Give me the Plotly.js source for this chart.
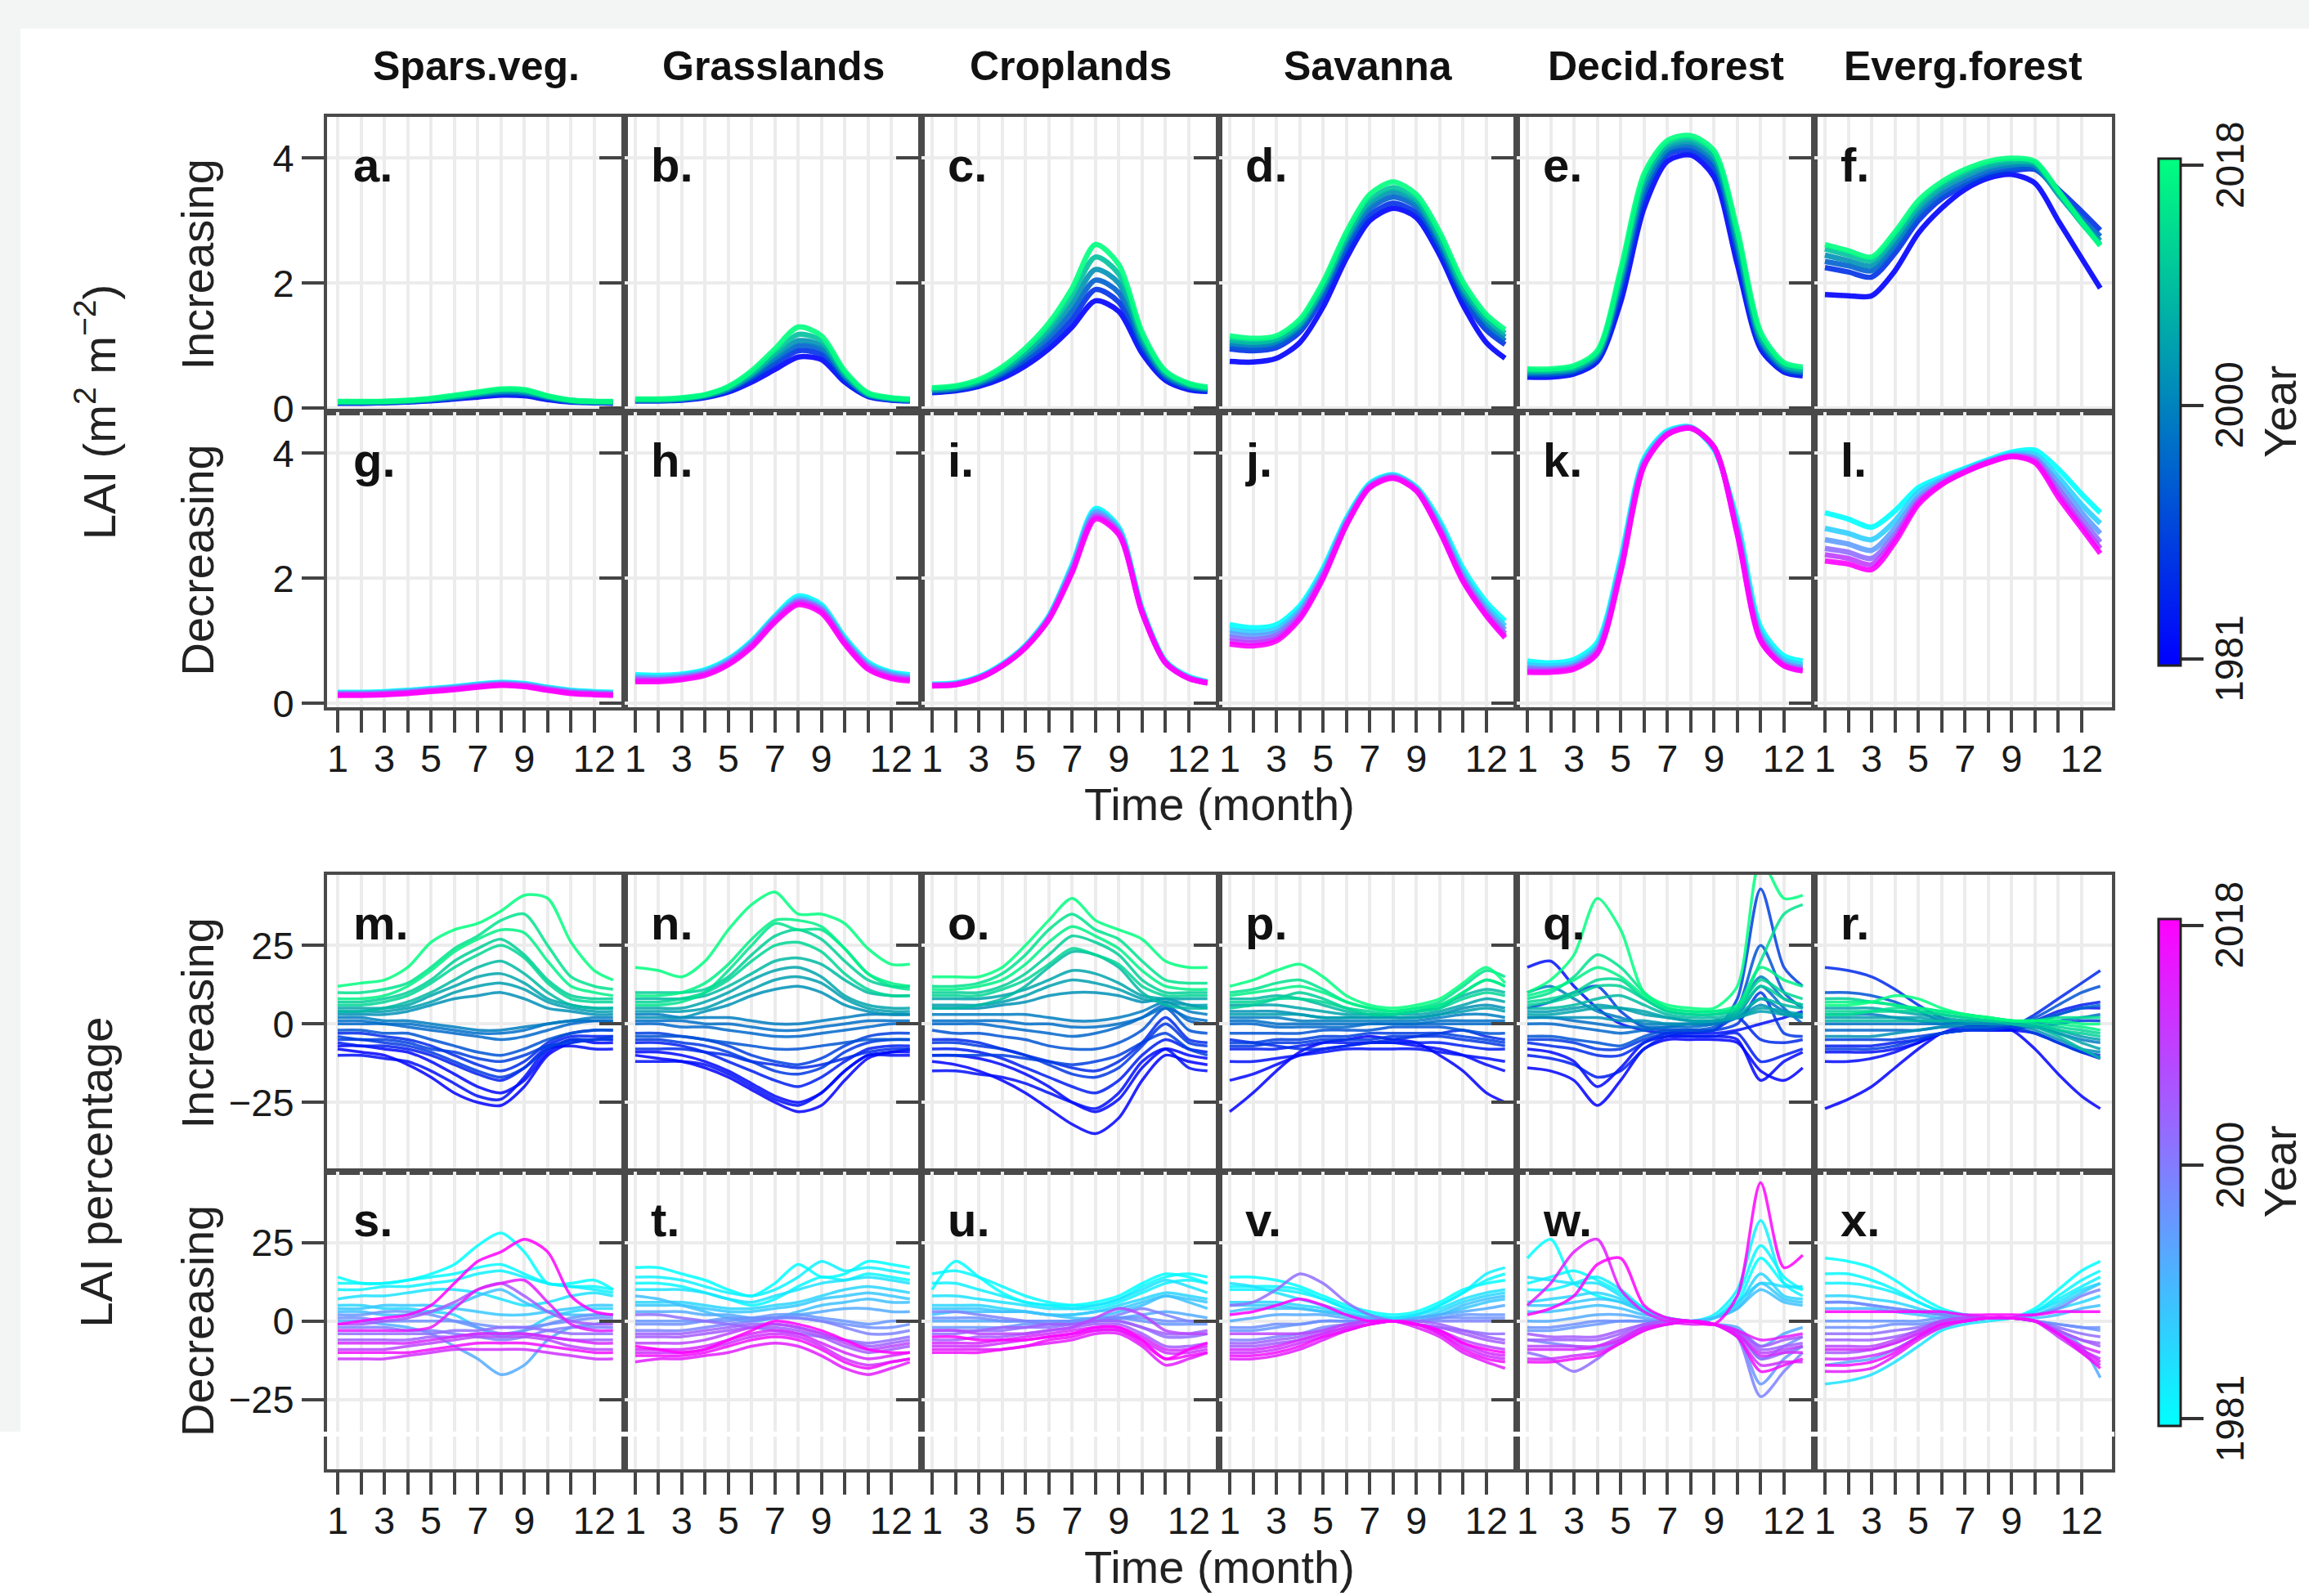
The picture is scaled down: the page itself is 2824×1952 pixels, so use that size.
<!DOCTYPE html>
<html><head><meta charset="utf-8">
<script src="https://cdn.plot.ly/plotly-3.0.1.min.js"></script>
<style>html,body{margin:0;padding:0;background:#fff}</style>
</head><body><div id="chart" style="width:2824px;height:1952px"></div>
<script>
// ---------------- data ----------------
const months = [1,2,3,4,5,6,7,8,9,10,11,12,12.8];
const xTickVals = [1,2,3,4,5,6,7,8,9,10,11,12];
const xTickText = ['1','','3','','5','','7','','9','','','12'];
const yTicksLAI = [0,2,4];
const yTicksPct = [-25,0,25];
const colTitles = ['Spars.veg.','Grasslands','Croplands','Savanna','Decid.forest','Everg.forest'];
const panelLetters = ['a','b','c','d','e','f','g','h','i','j','k','l','m','n','o','p','q','r','s','t','u','v','w','x'];
const rowLabels = ['Increasing','Decreasing'];
const blockLabels = ['LAI (m<sup>2</sup> m<sup>\u22122</sup>)','LAI percentage'];
const xTitle = 'Time (month)';
const cbTickYears = [1981, 2000, 2018];
const yearsLAI = [1981,1988,1995,2002,2009,2018];
const yearsPct = [1981,1982,1983,1985,1987,1989,1990,1993,1996,1997,1999,2002,2004,2005,2008,2011,2012,2014,2016,2018];

// LAI, increasing (a-f)
const lai_a = [
 [0.08,0.08,0.09,0.10,0.12,0.15,0.18,0.21,0.20,0.14,0.10,0.09,0.08],
 [0.09,0.09,0.09,0.11,0.13,0.16,0.20,0.23,0.22,0.15,0.11,0.09,0.09],
 [0.09,0.09,0.10,0.11,0.14,0.17,0.21,0.25,0.24,0.17,0.11,0.10,0.09],
 [0.10,0.10,0.10,0.12,0.14,0.18,0.23,0.27,0.26,0.18,0.12,0.10,0.10],
 [0.10,0.10,0.11,0.12,0.15,0.19,0.24,0.29,0.28,0.19,0.13,0.11,0.10],
 [0.11,0.11,0.11,0.13,0.16,0.21,0.26,0.31,0.30,0.20,0.13,0.11,0.11]];
const lai_b = [
 [0.12,0.12,0.13,0.17,0.26,0.42,0.62,0.82,0.78,0.42,0.19,0.13,0.12],
 [0.12,0.12,0.14,0.18,0.28,0.46,0.70,0.92,0.86,0.46,0.20,0.14,0.12],
 [0.13,0.13,0.14,0.19,0.30,0.50,0.76,1.00,0.94,0.50,0.21,0.15,0.13],
 [0.13,0.13,0.15,0.20,0.31,0.53,0.82,1.08,1.00,0.53,0.22,0.15,0.13],
 [0.14,0.14,0.16,0.21,0.33,0.56,0.88,1.18,1.08,0.56,0.23,0.16,0.14],
 [0.15,0.15,0.17,0.22,0.35,0.60,0.95,1.30,1.16,0.60,0.25,0.17,0.15]];
const lai_c = [
 [0.25,0.28,0.35,0.48,0.68,0.95,1.30,1.72,1.55,0.88,0.45,0.30,0.27],
 [0.26,0.29,0.37,0.52,0.74,1.03,1.42,1.90,1.70,0.95,0.48,0.32,0.28],
 [0.28,0.31,0.39,0.55,0.80,1.12,1.55,2.05,1.85,1.02,0.51,0.34,0.30],
 [0.29,0.32,0.41,0.58,0.85,1.20,1.67,2.22,2.00,1.08,0.54,0.36,0.31],
 [0.31,0.34,0.43,0.62,0.90,1.28,1.80,2.42,2.15,1.15,0.57,0.38,0.32],
 [0.33,0.36,0.46,0.66,0.96,1.36,1.92,2.62,2.30,1.22,0.60,0.40,0.34]];
const lai_d = [
 [0.75,0.74,0.80,1.05,1.62,2.40,3.00,3.20,3.05,2.45,1.65,1.05,0.80],
 [0.95,0.92,0.97,1.22,1.78,2.52,3.08,3.28,3.12,2.52,1.76,1.25,1.02],
 [1.00,0.97,1.02,1.27,1.84,2.60,3.18,3.38,3.22,2.60,1.82,1.32,1.08],
 [1.05,1.02,1.07,1.32,1.90,2.68,3.26,3.46,3.28,2.68,1.88,1.38,1.14],
 [1.10,1.06,1.11,1.36,1.95,2.74,3.33,3.53,3.34,2.74,1.94,1.44,1.20],
 [1.16,1.12,1.16,1.42,2.02,2.82,3.42,3.62,3.42,2.82,2.02,1.50,1.26]];
const lai_e = [
 [0.50,0.50,0.55,0.75,1.70,3.20,3.95,4.05,3.70,2.30,0.95,0.58,0.52],
 [0.52,0.53,0.57,0.78,1.85,3.35,4.05,4.12,3.82,2.45,1.00,0.60,0.55],
 [0.55,0.55,0.60,0.82,1.95,3.45,4.10,4.18,3.90,2.55,1.05,0.63,0.57],
 [0.57,0.58,0.62,0.85,2.05,3.55,4.15,4.24,3.98,2.65,1.10,0.66,0.59],
 [0.60,0.60,0.65,0.88,2.12,3.65,4.22,4.30,4.05,2.75,1.15,0.69,0.62],
 [0.63,0.63,0.68,0.92,2.22,3.75,4.28,4.36,4.12,2.85,1.22,0.73,0.66]];
const lai_f = [
 [1.82,1.80,1.80,2.20,2.80,3.20,3.50,3.68,3.74,3.60,3.00,2.40,1.92],
 [2.25,2.18,2.10,2.48,3.00,3.35,3.56,3.72,3.80,3.82,3.50,3.15,2.85],
 [2.35,2.28,2.20,2.58,3.08,3.42,3.62,3.78,3.85,3.84,3.45,3.05,2.75],
 [2.45,2.36,2.28,2.66,3.16,3.50,3.70,3.85,3.90,3.88,3.42,2.98,2.68],
 [2.55,2.45,2.36,2.74,3.24,3.56,3.76,3.90,3.95,3.92,3.45,2.96,2.62],
 [2.62,2.52,2.42,2.82,3.32,3.62,3.82,3.95,4.00,3.95,3.48,2.98,2.60]];
// LAI, decreasing (g-l)
const lai_g = [
 [0.18,0.18,0.19,0.21,0.24,0.27,0.31,0.34,0.32,0.26,0.21,0.19,0.18],
 [0.17,0.17,0.18,0.20,0.23,0.26,0.30,0.33,0.31,0.25,0.20,0.18,0.17],
 [0.16,0.16,0.17,0.19,0.22,0.25,0.29,0.32,0.30,0.24,0.19,0.17,0.16],
 [0.15,0.15,0.16,0.18,0.21,0.24,0.28,0.31,0.29,0.23,0.18,0.16,0.15],
 [0.14,0.14,0.15,0.17,0.20,0.23,0.27,0.30,0.28,0.22,0.17,0.15,0.14],
 [0.13,0.13,0.14,0.16,0.19,0.22,0.26,0.29,0.27,0.21,0.16,0.14,0.13]];
const lai_h = [
 [0.46,0.45,0.47,0.54,0.71,1.00,1.40,1.72,1.58,1.06,0.66,0.50,0.46],
 [0.43,0.42,0.45,0.52,0.69,0.98,1.38,1.68,1.55,1.03,0.63,0.48,0.43],
 [0.41,0.40,0.43,0.50,0.67,0.96,1.36,1.65,1.52,1.01,0.61,0.46,0.41],
 [0.39,0.38,0.41,0.48,0.65,0.94,1.34,1.63,1.50,0.99,0.59,0.44,0.39],
 [0.37,0.37,0.40,0.47,0.64,0.92,1.32,1.61,1.48,0.97,0.57,0.42,0.38],
 [0.35,0.35,0.38,0.45,0.62,0.90,1.30,1.58,1.45,0.95,0.55,0.40,0.36]];
const lai_i = [
 [0.31,0.33,0.43,0.63,0.93,1.40,2.22,3.12,2.82,1.52,0.68,0.43,0.35],
 [0.30,0.32,0.42,0.62,0.92,1.39,2.19,3.08,2.79,1.50,0.67,0.42,0.34],
 [0.30,0.31,0.41,0.61,0.91,1.37,2.16,3.05,2.76,1.48,0.66,0.41,0.34],
 [0.29,0.31,0.41,0.60,0.90,1.36,2.13,3.01,2.74,1.47,0.66,0.41,0.33],
 [0.29,0.30,0.40,0.60,0.90,1.35,2.11,2.98,2.72,1.46,0.65,0.40,0.33],
 [0.28,0.30,0.40,0.60,0.89,1.34,2.09,2.95,2.70,1.45,0.65,0.40,0.33]];
const lai_j = [
 [1.26,1.21,1.26,1.56,2.16,2.96,3.52,3.66,3.46,2.92,2.16,1.62,1.32],
 [1.18,1.14,1.19,1.50,2.11,2.93,3.50,3.65,3.45,2.87,2.09,1.55,1.24],
 [1.12,1.08,1.14,1.46,2.08,2.90,3.48,3.63,3.43,2.83,2.04,1.50,1.18],
 [1.06,1.02,1.09,1.42,2.05,2.88,3.47,3.62,3.42,2.80,2.00,1.46,1.12],
 [1.00,0.97,1.04,1.38,2.02,2.86,3.46,3.61,3.41,2.77,1.97,1.42,1.08],
 [0.95,0.92,1.00,1.35,2.00,2.85,3.45,3.60,3.40,2.75,1.95,1.40,1.05]];
const lai_k = [
 [0.68,0.65,0.70,0.98,2.32,3.92,4.36,4.42,4.06,2.92,1.22,0.76,0.68],
 [0.62,0.60,0.65,0.92,2.25,3.88,4.34,4.42,4.08,2.84,1.14,0.70,0.62],
 [0.58,0.56,0.61,0.88,2.20,3.85,4.32,4.41,4.09,2.79,1.09,0.66,0.58],
 [0.55,0.54,0.59,0.85,2.16,3.83,4.31,4.41,4.10,2.75,1.05,0.63,0.55],
 [0.52,0.52,0.57,0.82,2.13,3.81,4.30,4.40,4.10,2.72,1.02,0.61,0.53],
 [0.50,0.50,0.55,0.80,2.10,3.80,4.30,4.40,4.10,2.70,1.00,0.60,0.52]];
const lai_l = [
 [3.05,2.95,2.82,3.08,3.45,3.62,3.76,3.90,4.02,4.05,3.75,3.35,3.05],
 [2.80,2.72,2.62,2.92,3.38,3.58,3.74,3.88,3.99,3.98,3.62,3.18,2.88],
 [2.62,2.55,2.45,2.80,3.30,3.55,3.72,3.87,3.97,3.93,3.52,3.05,2.72],
 [2.48,2.42,2.32,2.70,3.25,3.52,3.71,3.86,3.96,3.90,3.43,2.94,2.58],
 [2.38,2.32,2.22,2.64,3.22,3.51,3.70,3.85,3.95,3.87,3.36,2.86,2.48],
 [2.28,2.23,2.14,2.58,3.18,3.50,3.70,3.85,3.95,3.85,3.30,2.80,2.40]];

// LAI percentage, increasing (m-r); rows follow yearsPct
const pct_m = [
 [-8,-9,-10,-13,-17,-22,-25,-26,-20,-10,-6,-5,-5],
 [-7,-7,-8,-9,-12,-16,-20,-22,-18,-9,-5,-6,-6],
 [-10,-10,-11,-12,-15,-19,-23,-24,-17,-8,-7,-8,-8],
 [-6,-7,-7,-8,-10,-13,-16,-18,-14,-7,-4,-4,-4],
 [-3,-3,-4,-5,-7,-10,-13,-15,-12,-6,-3,-2,-2],
 [-5,-5,-6,-7,-9,-12,-15,-17,-14,-8,-5,-5,-4],
 [-4,-5,-5,-6,-8,-9,-11,-12,-10,-7,-6,-5,-5],
 [-2,-2,-3,-3,-5,-7,-9,-10,-8,-5,-3,-2,-2],
 [0,0,0,-1,-2,-3,-4,-5,-4,-2,0,1,1],
 [1,1,0,0,-1,-2,-3,-3,-2,0,1,1,1],
 [2,2,1,1,0,-1,-2,-2,-1,0,1,2,2],
 [3,3,3,4,6,8,9,10,8,5,4,3,3],
 [4,4,4,5,7,10,12,13,11,7,5,4,4],
 [5,5,5,6,9,12,15,16,13,8,6,5,5],
 [4,4,5,7,10,14,18,20,16,10,6,5,5],
 [7,7,8,10,14,20,24,27,22,14,9,8,8],
 [6,6,7,9,13,18,22,25,21,13,8,7,7],
 [10,10,11,13,18,24,28,33,35,25,15,12,11],
 [8,8,9,12,17,23,27,30,29,20,12,10,9],
 [12,13,14,18,26,30,32,36,41,40,26,17,14]];
const pct_n = [
 [-10,-11,-12,-14,-17,-21,-25,-28,-26,-18,-11,-9,-9],
 [-9,-9,-10,-12,-15,-19,-23,-25,-22,-15,-10,-9,-8],
 [-12,-12,-12,-13,-16,-20,-24,-26,-22,-15,-10,-10,-10],
 [-6,-6,-7,-9,-12,-15,-18,-20,-17,-12,-8,-7,-7],
 [-8,-8,-8,-9,-10,-12,-13,-14,-13,-11,-9,-8,-8],
 [-5,-5,-6,-7,-9,-12,-15,-16,-14,-9,-6,-5,-5],
 [-3,-3,-4,-5,-7,-10,-12,-13,-11,-7,-4,-3,-3],
 [-4,-4,-4,-5,-6,-7,-8,-8,-7,-6,-5,-5,-5],
 [0,0,-1,-1,-2,-3,-4,-4,-3,-2,-1,0,0],
 [1,1,1,0,0,-1,-2,-2,-1,0,1,1,1],
 [3,3,2,2,2,1,0,0,1,2,3,3,3],
 [2,2,2,4,6,9,11,12,10,6,4,3,3],
 [4,4,4,5,8,11,14,15,13,8,5,4,4],
 [5,5,5,7,10,14,17,18,15,9,6,5,5],
 [8,8,8,9,12,16,20,21,19,14,10,9,9],
 [10,10,10,11,15,22,28,30,27,20,14,12,12],
 [7,7,8,10,14,20,25,26,23,16,11,9,9],
 [6,6,7,10,17,25,32,30,30,24,16,12,11],
 [9,9,10,13,19,27,33,33,31,24,16,13,12],
 [18,17,15,20,30,38,42,35,35,32,24,19,19]];
const pct_o = [
 [-12,-13,-15,-18,-22,-27,-32,-35,-30,-18,-10,-12,-13],
 [-10,-10,-11,-13,-16,-20,-25,-28,-24,-14,-8,-10,-11],
 [-15,-15,-16,-17,-19,-22,-25,-27,-22,-12,-8,-14,-15],
 [-8,-8,-9,-11,-14,-17,-20,-22,-18,-10,-5,-8,-9],
 [-5,-5,-6,-8,-10,-12,-14,-15,-12,-6,2,-5,-6],
 [-6,-6,-7,-8,-10,-13,-16,-17,-14,-7,0,-6,-7],
 [-10,-10,-10,-10,-11,-12,-13,-12,-10,-6,-3,-8,-10],
 [-2,-3,-3,-4,-5,-7,-8,-8,-6,-2,5,-2,-3],
 [0,0,0,-1,-2,-3,-4,-3,-1,2,6,1,0],
 [1,1,1,1,0,0,-1,-1,0,2,5,2,1],
 [3,3,3,3,3,2,1,1,2,4,7,4,3],
 [5,5,5,6,7,9,10,10,9,7,8,6,5],
 [6,6,6,7,9,12,14,13,11,8,7,6,6],
 [8,8,8,9,11,14,17,16,13,9,8,8,8],
 [5,5,6,8,12,18,23,22,18,10,6,5,5],
 [10,10,10,12,16,22,28,26,22,14,10,10,10],
 [9,9,9,11,14,19,24,22,19,12,9,9,9],
 [12,12,13,16,22,30,35,30,27,20,14,13,13],
 [11,11,12,14,19,26,31,28,24,17,12,11,11],
 [15,15,15,18,25,33,40,33,30,27,20,18,18]];
const pct_p = [
 [-28,-22,-15,-9,-6,-5,-4,-5,-6,-10,-15,-22,-25],
 [-18,-16,-13,-10,-8,-7,-6,-6,-7,-8,-10,-13,-15],
 [-12,-12,-11,-10,-9,-8,-8,-8,-8,-9,-10,-11,-12],
 [-8,-8,-8,-7,-6,-6,-6,-6,-6,-6,-7,-8,-8],
 [-5,-6,-7,-8,-8,-7,-6,-5,-4,-3,-2,-4,-5],
 [-7,-7,-6,-6,-5,-5,-5,-4,-4,-4,-5,-6,-7],
 [-6,-6,-5,-5,-4,-4,-3,-3,-3,-3,-4,-5,-6],
 [-3,-3,-3,-3,-2,-2,-2,-1,-1,-1,-2,-3,-3],
 [0,0,-1,-1,-1,-1,0,0,0,0,0,0,0],
 [1,1,0,0,0,0,0,0,0,1,1,1,1],
 [2,2,2,1,1,1,1,1,1,2,3,3,2],
 [4,4,4,3,2,2,2,2,2,3,5,6,5],
 [3,3,3,3,2,2,2,2,2,3,4,5,4],
 [6,6,6,5,4,3,3,3,3,4,6,8,7],
 [8,8,9,8,6,4,3,3,4,6,9,11,10],
 [5,6,8,10,8,5,3,3,4,5,10,14,12],
 [7,7,8,8,7,5,4,3,4,5,8,10,9],
 [10,11,13,14,11,7,5,4,5,7,12,17,15],
 [9,10,11,12,10,7,5,4,5,6,10,14,12],
 [12,14,17,19,15,9,6,5,6,8,13,18,13]];
const pct_q = [
 [-14,-15,-18,-26,-18,-8,-5,-5,-5,-6,-15,-18,-14],
 [-8,-9,-12,-20,-14,-6,-4,-4,-4,-5,-18,-12,-9],
 [18,20,12,5,0,-2,-3,-3,-3,-2,0,2,4],
 [-10,-11,-13,-17,-15,-8,-4,-4,-4,-3,-12,-10,-8],
 [-6,-7,-8,-10,-10,-6,-3,-3,-2,2,-5,-6,-5],
 [-5,-5,-6,-8,-8,-5,-3,-2,-2,0,10,-3,-4],
 [5,7,10,12,4,-1,-2,-2,-2,8,43,18,12],
 [-4,-4,-5,-6,-7,-4,-2,-2,-1,5,25,10,5],
 [0,0,-1,-2,-3,-2,-1,-1,0,3,12,5,0],
 [2,2,1,0,-1,-1,-1,0,0,2,8,4,2],
 [10,12,8,4,2,0,0,0,0,4,15,8,6],
 [2,2,2,2,1,1,0,0,1,2,6,3,2],
 [4,4,5,6,5,3,2,1,1,2,4,3,3],
 [3,3,4,5,5,4,2,1,1,2,5,4,3],
 [5,5,6,8,9,6,3,2,2,3,8,6,5],
 [6,7,9,12,12,8,4,3,3,4,12,8,6],
 [7,8,10,14,14,8,4,3,3,5,14,10,8],
 [8,10,15,22,18,10,5,4,4,5,20,35,38],
 [9,11,14,18,15,9,5,4,4,6,18,14,12],
 [10,14,22,40,30,10,6,5,5,12,52,40,41]];
const pct_r = [
 [-27,-24,-20,-14,-8,-3,-1,-1,-2,-8,-16,-23,-27],
 [-12,-12,-11,-9,-6,-3,-2,-2,-2,-3,-6,-9,-11],
 [-9,-9,-9,-8,-6,-3,-2,-2,-2,0,3,5,5],
 [-7,-7,-7,-6,-5,-3,-2,-1,-1,1,4,6,7],
 [18,17,15,11,6,2,0,-1,-1,3,8,13,17],
 [-8,-8,-8,-7,-5,-3,-2,-1,-1,-1,0,1,1],
 [-5,-5,-5,-5,-4,-3,-2,-2,-1,-3,-6,-9,-10],
 [10,10,9,7,4,1,0,0,0,2,6,10,12],
 [-2,-2,-2,-2,-2,-1,-1,-1,0,1,3,5,6],
 [0,0,0,0,0,0,0,0,0,0,1,2,3],
 [3,3,3,2,1,0,0,0,0,-1,-3,-5,-6],
 [-4,-4,-4,-3,-2,-1,0,0,0,-2,-5,-8,-9],
 [2,2,2,2,2,1,1,1,0,-1,-2,-4,-5],
 [5,5,5,4,3,2,1,1,0,-1,-3,-6,-8],
 [1,1,1,1,1,1,1,1,0,-1,-4,-8,-11],
 [8,8,7,6,4,3,2,1,1,0,-2,-3,-4],
 [4,4,4,4,4,3,2,1,1,0,-1,-2,-3],
 [3,3,4,5,5,4,3,2,1,1,2,2,2],
 [7,7,7,6,5,4,3,2,1,1,0,-1,-2],
 [6,6,7,9,8,5,3,2,1,1,1,0,0]];
// LAI percentage, decreasing (s-x); rows follow yearsPct
const pct_s = [
 [14,12,12,13,15,18,24,28,22,12,12,13,10],
 [12,12,12,13,14,15,17,18,15,12,11,11,10],
 [10,10,11,11,12,13,15,16,14,12,11,10,9],
 [7,8,8,9,10,10,9,7,5,6,8,9,8],
 [5,5,4,4,3,2,-2,-5,-3,1,3,4,4],
 [4,4,5,5,5,4,3,2,2,3,4,5,5],
 [3,3,2,2,3,5,8,10,6,3,2,2,2],
 [0,0,-1,-2,-4,-8,-12,-17,-14,-6,-2,-1,0],
 [2,2,3,3,2,0,-2,-4,-3,-1,1,2,2],
 [1,1,0,0,0,0,-1,-2,-2,-1,0,1,1],
 [-2,-2,-2,-3,-3,-4,-5,-6,-5,-3,-2,-2,-2],
 [-4,-4,-4,-4,-4,-3,-3,-2,-2,-3,-4,-4,-4],
 [-6,-6,-6,-6,-5,-5,-4,-4,-4,-5,-6,-6,-6],
 [-1,-1,0,1,3,6,10,12,8,3,0,-1,-1],
 [-9,-9,-9,-8,-7,-6,-5,-5,-5,-6,-8,-9,-9],
 [-12,-12,-12,-11,-10,-9,-9,-9,-9,-10,-11,-12,-12],
 [-7,-7,-7,-7,-6,-5,-4,-4,-4,-5,-6,-7,-7],
 [-3,-3,-3,-3,-2,4,10,12,13,6,-1,-3,-3],
 [-10,-10,-10,-10,-9,-8,-7,-7,-7,-8,-9,-10,-10],
 [-1,0,1,2,5,12,19,22,26,22,8,3,2]];
const pct_t = [
 [17,17,15,13,10,8,12,18,14,15,19,18,17],
 [12,12,11,9,7,5,7,11,14,13,15,14,13],
 [14,14,13,11,9,8,10,14,19,16,17,16,15],
 [10,10,10,9,7,6,8,10,12,13,14,13,12],
 [6,6,6,5,4,4,5,6,8,10,11,10,9],
 [5,5,5,4,3,3,4,5,7,8,9,8,7],
 [8,7,5,3,1,0,1,3,5,6,7,6,6],
 [3,3,3,2,2,1,1,2,3,4,4,3,3],
 [0,0,0,0,1,1,2,2,1,0,-1,0,0],
 [-1,-1,-1,0,0,1,1,1,0,-1,-2,-2,-1],
 [-3,-3,-3,-2,-1,0,1,1,0,-2,-4,-4,-3],
 [2,2,1,0,-1,-2,-3,-4,-5,-6,-7,-6,-5],
 [-4,-4,-4,-3,-2,-1,-1,-2,-4,-6,-8,-7,-6],
 [-5,-5,-5,-4,-3,-2,-2,-3,-5,-8,-10,-9,-8],
 [-7,-7,-7,-6,-4,-2,-1,-2,-4,-7,-9,-8,-7],
 [-10,-10,-10,-9,-7,-5,-4,-5,-8,-12,-14,-13,-12],
 [-9,-9,-9,-8,-6,-4,-3,-4,-7,-10,-12,-11,-10],
 [-13,-12,-12,-11,-10,-8,-7,-8,-11,-15,-17,-15,-13],
 [-11,-11,-11,-10,-8,-6,-5,-6,-9,-13,-15,-13,-12],
 [-8,-9,-10,-9,-6,-3,0,-1,-3,-6,-9,-10,-10]];
const pct_u = [
 [10,19,14,9,6,5,5,6,8,12,15,14,12],
 [15,16,14,11,8,6,5,5,7,11,14,15,14],
 [12,12,10,8,6,5,4,4,6,9,12,13,12],
 [8,8,7,6,5,4,4,5,7,10,13,11,9],
 [5,5,5,4,3,2,2,3,5,7,9,8,7],
 [4,4,4,3,3,2,2,3,4,6,8,7,6],
 [2,3,3,3,3,2,1,1,3,5,8,6,4],
 [0,0,0,0,0,0,0,0,1,2,3,2,1],
 [-2,-2,-2,-2,-1,-1,0,1,1,0,-1,-1,-1],
 [1,1,1,0,0,0,0,0,1,1,0,0,0],
 [3,3,2,1,0,-1,-1,0,2,4,2,0,0],
 [-4,-4,-3,-3,-2,-2,-1,0,0,-2,-5,-5,-4],
 [-3,-3,-3,-2,-2,-1,-1,0,0,-2,-4,-4,-3],
 [-6,-6,-5,-5,-4,-3,-2,-1,-1,-4,-8,-8,-7],
 [-3,-3,-4,-4,-4,-3,-2,1,4,2,-3,-4,-4],
 [-8,-8,-8,-7,-6,-5,-4,-3,-3,-6,-10,-10,-9],
 [-7,-7,-7,-6,-5,-4,-3,-2,-2,-5,-9,-9,-8],
 [-9,-9,-9,-9,-8,-7,-6,-4,-4,-8,-14,-12,-10],
 [-10,-10,-10,-9,-8,-6,-5,-3,-3,-7,-12,-11,-10],
 [-5,-5,-6,-6,-6,-5,-4,-2,-2,-6,-12,-9,-7]];
const pct_v = [
 [14,14,13,11,8,5,3,2,3,6,10,12,13],
 [11,11,11,10,7,4,2,1,2,5,9,13,15],
 [10,10,10,9,7,4,2,1,2,5,9,15,17],
 [12,11,9,7,5,3,1,1,2,4,7,9,10],
 [6,6,6,5,4,2,1,0,1,3,6,8,9],
 [5,5,5,4,3,2,1,0,1,2,4,6,7],
 [3,4,4,4,3,2,1,0,1,2,5,7,8],
 [0,1,2,2,2,1,1,0,1,2,3,4,5],
 [-3,-3,-2,-1,0,0,0,0,0,1,2,2,2],
 [-2,-2,-1,-1,0,0,0,0,0,1,1,1,1],
 [-6,-6,-5,-4,-2,-1,0,0,0,0,0,0,0],
 [5,6,10,15,12,6,2,0,-1,-2,-3,-4,-4],
 [-7,-7,-6,-5,-3,-1,0,0,0,-1,-3,-5,-6],
 [-8,-8,-7,-6,-4,-2,0,0,-1,-2,-4,-6,-7],
 [-4,-4,-4,-4,-3,-1,0,0,-1,-3,-6,-8,-9],
 [-10,-10,-9,-7,-5,-3,-1,0,-1,-4,-8,-11,-12],
 [-9,-9,-8,-6,-4,-2,-1,0,-1,-3,-7,-10,-11],
 [-12,-12,-11,-9,-6,-3,-1,0,-2,-5,-10,-13,-15],
 [-11,-11,-10,-8,-5,-3,-1,0,-1,-4,-9,-12,-13],
 [2,3,5,7,5,2,0,0,-1,-3,-7,-9,-10]];
const pct_w = [
 [20,26,12,8,6,3,1,0,1,6,20,12,10],
 [12,14,16,13,9,4,1,0,1,8,24,14,10],
 [10,10,12,14,10,4,1,0,2,10,32,12,8],
 [14,13,12,12,8,3,1,0,1,6,12,11,11],
 [6,7,8,9,7,3,1,0,1,5,15,8,7],
 [5,5,6,7,6,3,1,0,1,4,12,7,6],
 [3,3,4,5,4,2,1,0,1,4,10,6,5],
 [0,0,1,2,2,1,0,0,-1,-2,-8,-4,-2],
 [-3,-3,-2,-1,0,0,0,0,-1,-4,-20,-12,-8],
 [-2,-2,-1,0,0,0,0,0,-1,-3,-12,-8,-5],
 [-6,-7,-8,-9,-6,-2,0,0,-1,-5,-24,-16,-10],
 [-10,-12,-16,-12,-6,-2,-1,0,-1,-4,-12,-10,-8],
 [-6,-6,-6,-6,-4,-1,0,0,-1,-3,-9,-8,-7],
 [-4,-5,-5,-5,-3,-1,0,0,-1,-3,-8,-6,-5],
 [-8,-8,-8,-8,-5,-2,-1,0,-1,-4,-10,-9,-8],
 [-12,-12,-11,-10,-7,-3,-1,0,-1,-5,-14,-13,-13],
 [-9,-9,-9,-8,-6,-2,-1,0,-1,-4,-11,-10,-10],
 [5,12,22,26,10,3,0,-1,-1,-3,-6,-5,-4],
 [-13,-13,-12,-11,-7,-3,-1,0,-1,-5,-16,-14,-12],
 [2,4,8,18,20,5,1,0,-1,8,44,17,21]];
const pct_x = [
 [20,19,17,13,8,4,2,1,1,4,10,16,19],
 [15,15,13,10,6,3,2,1,1,3,8,13,16],
 [12,12,11,9,6,3,2,1,1,3,7,11,14],
 [-20,-19,-17,-13,-8,-3,-1,0,1,3,6,10,12],
 [8,8,7,6,4,2,1,1,1,2,4,6,8],
 [6,6,5,4,3,2,1,1,1,2,5,9,12],
 [4,4,4,3,2,1,1,1,1,1,2,4,5],
 [-14,-13,-12,-9,-5,-2,0,1,1,0,-3,-8,-18],
 [0,0,0,0,0,1,1,1,1,0,-1,-2,-3],
 [-2,-2,-2,-1,-1,0,1,1,1,0,-1,-2,-2],
 [6,6,5,4,3,2,1,1,1,2,4,8,10],
 [-4,-4,-4,-3,-2,0,1,1,1,0,-2,-4,-5],
 [-6,-6,-6,-5,-3,0,1,1,1,0,-3,-6,-7],
 [-10,-10,-9,-7,-4,-1,0,1,1,0,-3,-6,-8],
 [-8,-8,-8,-6,-3,0,1,1,1,0,-4,-9,-12],
 [-12,-12,-11,-9,-5,-1,0,1,1,0,-5,-10,-14],
 [-9,-9,-9,-7,-4,-1,0,1,1,0,-4,-8,-10],
 [-16,-16,-15,-11,-6,-2,0,1,1,0,-4,-9,-13],
 [-14,-14,-13,-10,-5,-1,0,1,1,0,-4,-10,-15],
 [3,3,3,3,3,3,2,2,2,2,3,3,3]];

const laiPanels = [lai_a,lai_b,lai_c,lai_d,lai_e,lai_f,lai_g,lai_h,lai_i,lai_j,lai_k,lai_l];
const pctPanels = [pct_m,pct_n,pct_o,pct_p,pct_q,pct_r,pct_s,pct_t,pct_u,pct_v,pct_w,pct_x];

// ---------------- layout / styling ----------------
const W = 2824, H = 1952;
const FONT = 'Liberation Sans, Arial, Helvetica, sans-serif';
const colEdges = [400, 764, 1127, 1491, 1855, 2219, 2583];
const rowEdges = [[143, 504, 865], [1070, 1433, 1797]];
const yRanges = [[-0.06, 4.66], [-47.1, 47.5]];
const xRange = [0.545, 13.3];
const px = v => v / W;
const py = v => 1 - v / H;

const scaleInc = [[0, 'rgb(0,0,255)'], [1, 'rgb(0,255,127)']];
const scaleDec = [[0, 'rgb(0,255,255)'], [1, 'rgb(255,0,255)']];
function yearColor(year, inc) {
  const t = (year - 1981) / 37;
  if (inc) return `rgb(0,${Math.round(255 * t)},${Math.round(255 - 128 * t)})`;
  return `rgb(${Math.round(255 * t)},${Math.round(255 * (1 - t))},255)`;
}

const traces = [];
const layout = {
  width: W, height: H,
  margin: {l: 0, r: 0, t: 0, b: 0},
  paper_bgcolor: '#ffffff', plot_bgcolor: '#ffffff',
  font: {family: FONT, color: '#1a1a1a'},
  showlegend: false,
  annotations: [], shapes: []
};

for (let p = 0; p < 24; p++) {
  const block = Math.floor(p / 12);
  const row = Math.floor((p % 12) / 6);
  const col = p % 6;
  const n = p + 1;
  const xn = n === 1 ? 'x' : 'x' + n;
  const yn = n === 1 ? 'y' : 'y' + n;
  const data = block === 0 ? laiPanels[p] : pctPanels[p - 12];
  const years = block === 0 ? yearsLAI : yearsPct;
  const inc = row === 0;
  data.forEach((vals, i) => {
    traces.push({
      type: 'scatter', mode: 'lines', x: months, y: vals,
      xaxis: xn, yaxis: yn, hoverinfo: 'skip', showlegend: false,
      opacity: block === 0 ? 0.9 : 0.85,
      line: {color: yearColor(years[i], inc), width: block === 0 ? 6.5 : 3.5, shape: 'spline', smoothing: 0.8}
    });
  });
  const top = rowEdges[block][row], bot = rowEdges[block][row + 1];
  layout[n === 1 ? 'xaxis' : 'xaxis' + n] = {
    domain: [px(colEdges[col]), px(colEdges[col + 1])],
    anchor: yn, range: xRange, fixedrange: true,
    tickmode: 'array', tickvals: xTickVals, ticktext: xTickText, tickangle: 0,
    ticks: row === 1 ? 'outside' : '', ticklen: 27, tickwidth: 4, tickcolor: '#444',
    ticklabelstandoff: -8,
    showticklabels: row === 1, tickfont: {size: 47, color: '#1a1a1a', family: FONT},
    showgrid: true, gridcolor: '#ececec', gridwidth: 4,
    showline: true, mirror: true, linecolor: '#4a4a4a', linewidth: 4, zeroline: false
  };
  layout[n === 1 ? 'yaxis' : 'yaxis' + n] = {
    domain: [py(bot), py(top)],
    anchor: xn, range: yRanges[block], fixedrange: true,
    tickmode: 'array', tickvals: block === 0 ? yTicksLAI : yTicksPct, tickangle: 0,
    ticks: 'outside', ticklen: 27, tickwidth: 4, tickcolor: '#444',
    showticklabels: col === 0, tickfont: {size: 47, color: '#1a1a1a', family: FONT},
    showgrid: true, gridcolor: '#ececec', gridwidth: 4,
    showline: true, mirror: true, linecolor: '#4a4a4a', linewidth: 4, zeroline: false
  };
  // panel letter
  layout.annotations.push({
    text: '<b>' + panelLetters[p] + '.</b>', xref: 'paper', yref: 'paper',
    x: px(colEdges[col] + 30), y: py(top + 58), xanchor: 'left', yanchor: 'middle',
    showarrow: false, font: {size: 58, color: '#111', family: FONT}
  });
}

// column titles
colTitles.forEach((t, c) => {
  layout.annotations.push({
    text: '<b>' + t + '</b>', xref: 'paper', yref: 'paper',
    x: px((colEdges[c] + colEdges[c + 1]) / 2), y: py(81), xanchor: 'center', yanchor: 'middle',
    showarrow: false, font: {size: 50, color: '#111', family: FONT}
  });
});

// row & block labels, x titles, colorbars
for (let b = 0; b < 2; b++) {
  for (let r = 0; r < 2; r++) {
    layout.annotations.push({
      text: rowLabels[r], xref: 'paper', yref: 'paper', textangle: -90,
      x: px(241), y: py((rowEdges[b][r] + rowEdges[b][r + 1]) / 2), xanchor: 'center', yanchor: 'middle',
      showarrow: false, font: {size: 56, color: '#222', family: FONT}
    });
  }
  const mid = (rowEdges[b][0] + rowEdges[b][2]) / 2;
  layout.annotations.push({
    text: blockLabels[b], xref: 'paper', yref: 'paper', textangle: -90,
    x: px(117), y: py(mid), xanchor: 'center', yanchor: 'middle',
    showarrow: false, font: {size: 56, color: '#222', family: FONT}
  });
  layout.annotations.push({
    text: xTitle, xref: 'paper', yref: 'paper',
    x: px((colEdges[0] + colEdges[6]) / 2), y: py(rowEdges[b][2] + 119), xanchor: 'center', yanchor: 'middle',
    showarrow: false, font: {size: 56, color: '#222', family: FONT}
  });
  const cbTop = mid - 310;
  traces.push({
    type: 'scatter', mode: 'markers', x: [1], y: [b === 0 ? -50 : -500],
    xaxis: b === 0 ? 'x' : 'x13', yaxis: b === 0 ? 'y' : 'y13', hoverinfo: 'skip', showlegend: false,
    marker: {
      size: 1, color: [2000], cmin: 1980.5, cmax: 2018.5,
      colorscale: b === 0 ? scaleInc : scaleDec, showscale: true,
      colorbar: {
        x: px(2640), xanchor: 'left', xref: 'paper', xpad: 0,
        y: py(mid), yanchor: 'middle', yref: 'paper', ypad: 0,
        len: 620, lenmode: 'pixels', thickness: 27, thicknessmode: 'pixels',
        outlinewidth: 3, outlinecolor: '#222', borderwidth: 0,
        tickmode: 'array', tickvals: cbTickYears, ticks: 'outside', ticklen: 27, tickwidth: 4, tickcolor: '#333',
        showticklabels: false
      }
    }
  });
  cbTickYears.forEach(yr => {
    const yy = cbTop + 620 * (2018.5 - yr) / 38;
    layout.annotations.push({
      text: String(yr), xref: 'paper', yref: 'paper', textangle: -90,
      x: px(2727), y: py(yy), xanchor: 'center', yanchor: 'middle',
      showarrow: false, font: {size: 48, color: '#1a1a1a', family: FONT}
    });
  });
  layout.annotations.push({
    text: 'Year', xref: 'paper', yref: 'paper', textangle: -90,
    x: px(2788), y: py(mid), xanchor: 'center', yanchor: 'middle',
    showarrow: false, font: {size: 56, color: '#222', family: FONT}
  });
}

// light grey page margins and the white scan line of the reference
layout.shapes.push({type: 'rect', xref: 'paper', yref: 'paper', x0: 0, x1: 1, y0: py(35), y1: 1,
  fillcolor: '#f3f5f5', line: {width: 0}, layer: 'below'});
layout.shapes.push({type: 'rect', xref: 'paper', yref: 'paper', x0: 0, x1: px(25), y0: py(1751), y1: py(35),
  fillcolor: '#f3f5f5', line: {width: 0}, layer: 'below'});
layout.shapes.push({type: 'rect', xref: 'paper', yref: 'paper', x0: 0, x1: px(2586), y0: py(1757), y1: py(1751),
  fillcolor: '#ffffff', line: {width: 0}, layer: 'above'});

Plotly.newPlot('chart', traces, layout, {displayModeBar: false, staticPlot: true});
</script></body></html>
